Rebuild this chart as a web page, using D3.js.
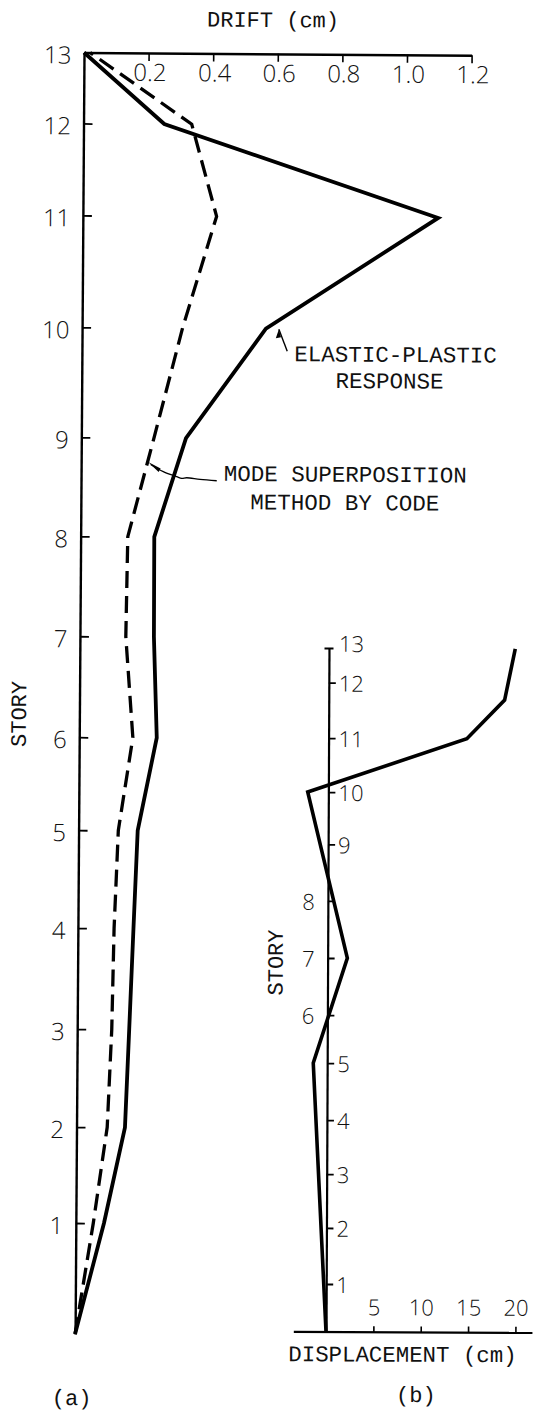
<!DOCTYPE html>
<html><head><meta charset="utf-8">
<script src="https://cdn.jsdelivr.net/npm/d3@7"></script>
<style>
html,body{margin:0;padding:0;background:#fff;}
svg{display:block;background:#fff;}
</style></head><body>
<svg id="chart" width="537" height="1419"></svg>
<script>
// ---------------- DATA ----------------
const stories = [0,1,2,3,4,5,6,7,8,9,10,11,12,13];
// floor elevations (relative units)
const storyElevationA = [0, 1.11, 2.07, 3.05, 4.06, 5.04, 5.97, 6.98, 7.98, 8.97, 10.07, 11.19, 12.11, 12.82];
const storyElevationB = [0, 0.90, 1.95, 2.96, 3.97, 5.04, 5.94, 7.01, 8.08, 9.14, 10.12, 11.13, 12.17, 12.82];
// (a) story drift (cm), stories 0..13
const driftElasticPlastic   = [0, 0.087, 0.150, 0.161, 0.172, 0.183, 0.240, 0.229, 0.228, 0.324, 0.569, 1.100, 0.250, 0];
const driftModeSuperposition = [0, 0.054, 0.095, 0.107, 0.112, 0.123, 0.166, 0.142, 0.146, 0.225, 0.311, 0.414, 0.335, 0.019];
const driftTicks = [0.2, 0.4, 0.6, 0.8, 1.0, 1.2];
// (b) displacement (cm)
const dispStories = [0, 5, 7, 10, 11, 11.7, 13];
const dispValues  = [0, -1.47, 2.08, -2.18, 14.6, 18.57, 19.67];
const dispTicks = [5, 10, 15, 20];
const storyLabelsLeftB = [6, 7, 8];

const NUMFONT = '"Open Sans","Liberation Sans",sans-serif';
const TWFONT = '"Liberation Mono","DejaVu Sans Mono",monospace';

const svg = d3.select("#chart");

// ================= PANEL (a) =================
const gA = svg.append("g").attr("transform", "rotate(0.4,82,700)");
const xA = d3.scaleLinear().domain([0, 1.2]).range([79.5, 79.5 + 1.2 * 323]);
const yA = d3.scaleLinear().domain([0, storyElevationA[13]]).range([1334, 52.5]);
const elevA = d3.scaleLinear().domain(stories).range(storyElevationA);

// top drift axis
const topAx = gA.append("g")
  .attr("transform", `translate(0,${yA(elevA(13))})`)
  .call(d3.axisBottom(xA).tickValues(driftTicks).tickSize(8).tickSizeOuter(0).tickFormat(d3.format(".1f")));
topAx.select(".domain").attr("stroke", "#000").attr("stroke-width", 2.4);
topAx.selectAll(".tick line").attr("stroke", "#000").attr("stroke-width", 1.6);
topAx.selectAll("text")
  .style("font-family", NUMFONT).style("font-weight", 300).style("font-size", "24px")
  .attr("fill", "#111").attr("y", 28).attr("dy", 0).attr("dx", 1);

// left story axis
const leftAx = gA.append("g")
  .attr("transform", `translate(${xA(0)},0)`)
  .call(d3.axisRight(yA)
    .tickValues(stories.slice(1).map(s => storyElevationA[s]))
    .tickFormat((d, i) => stories[i + 1])
    .tickSize(9).tickSizeOuter(0));
leftAx.select(".domain").attr("stroke", "#000").attr("stroke-width", 2.4);
leftAx.selectAll(".tick line").attr("stroke", "#000").attr("stroke-width", 1.8);
leftAx.selectAll("text")
  .style("font-family", NUMFONT).style("font-weight", 300).style("font-size", "24px")
  .attr("fill", "#111").attr("x", -12.5).attr("text-anchor", "end").attr("dy", "0.44em");

const lineA = d3.line().x(d => xA(d.v)).y(d => yA(elevA(d.s)));
const epData = stories.map((s, i) => ({ s, v: driftElasticPlastic[i] }));
const msData = stories.map((s, i) => ({ s, v: driftModeSuperposition[i] }));

gA.append("path").datum(msData).attr("d", lineA)
  .attr("fill", "none").attr("stroke", "#000").attr("stroke-width", 3.3)
  .attr("stroke-dasharray", "17,8").attr("stroke-linejoin", "miter");
gA.append("path").datum(epData).attr("d", lineA)
  .attr("fill", "none").attr("stroke", "#000").attr("stroke-width", 3.8)
  .attr("stroke-linejoin", "miter");

// axis title
gA.append("text").attr("x", 268.3).attr("y", 25.7).attr("text-anchor", "middle")
  .style("font-family", TWFONT).style("font-size", "22px").attr("fill", "#111").text("DRIFT (cm)");
gA.append("text").attr("transform", "translate(18.4,714.4) rotate(-90)")
  .attr("text-anchor", "middle").attr("dy", "0.35em")
  .style("font-family", TWFONT).style("font-size", "22px").attr("fill", "#111").text("STORY");
gA.append("text").attr("x", 76.6).attr("y", 1405).attr("text-anchor", "middle")
  .style("font-family", TWFONT).style("font-size", "22px").attr("fill", "#111").text("(a)");

// annotation: elastic-plastic
const ep10 = [xA(driftElasticPlastic[10]), yA(elevA(10))];
const tip1 = [ep10[0] + 13, ep10[1] + 0.5];
const tail1 = [tip1[0] + 8.5, tip1[1] + 22];
gA.append("line").attr("x1", tail1[0]).attr("y1", tail1[1]).attr("x2", tip1[0]).attr("y2", tip1[1])
  .attr("stroke", "#000").attr("stroke-width", 1.4);
gA.append("path").attr("d", `M${tip1[0]},${tip1[1]} L${tip1[0]-3},${tip1[1]+9} L${tip1[0]+2.2},${tip1[1]+8} Z`).attr("fill", "#000");
gA.append("text").attr("x", 393.1).attr("y", 359.8).attr("text-anchor", "middle")
  .style("font-family", TWFONT).style("font-size", "22.5px").attr("fill", "#111").text("ELASTIC-PLASTIC");
gA.append("text").attr("x", 387.3).attr("y", 386.2).attr("text-anchor", "middle")
  .style("font-family", TWFONT).style("font-size", "22.5px").attr("fill", "#111").text("RESPONSE");

// annotation: mode superposition (wavy leader)
const leader = [[215.2,479.8],[198.5,478.5],[185.1,477],[180.2,477.6],[175.1,476],[161.7,471.1],[149,464]];
gA.append("path").attr("d", d3.line().curve(d3.curveCatmullRom)(leader))
  .attr("fill", "none").attr("stroke", "#000").attr("stroke-width", 1.3);
gA.append("path").attr("d", "M146.5,461.5 L159,468 L157,471.5 Z").attr("fill", "#000");
gA.append("text").attr("x", 343.7).attr("y", 479.9).attr("text-anchor", "middle")
  .style("font-family", TWFONT).style("font-size", "22.5px").attr("fill", "#111").text("MODE SUPERPOSITION");
gA.append("text").attr("x", 343.5).attr("y", 508.2).attr("text-anchor", "middle")
  .style("font-family", TWFONT).style("font-size", "22.5px").attr("fill", "#111").text("METHOD BY CODE");

// ================= PANEL (b) =================
const gB = svg.append("g").attr("transform", "rotate(0.25,328,990)");
const xB = d3.scaleLinear().domain([0, 20]).range([327.5, 327.5 + 20 * 9.47]);
const yB = d3.scaleLinear().domain([0, storyElevationB[13]]).range([1332, 648]);
const elevB = d3.scaleLinear().domain(stories).range(storyElevationB);

// bottom displacement axis
const botAx = gB.append("g").attr("transform", `translate(0,${yB(0)})`)
  .call(d3.axisTop(xB).tickValues(dispTicks).tickSize(6).tickSizeOuter(0));
botAx.select(".domain").remove();
botAx.append("line").attr("x1", xB(-3.4)).attr("x2", xB(21.8)).attr("y1", 0).attr("y2", 0)
  .attr("stroke", "#000").attr("stroke-width", 2.2);
botAx.selectAll(".tick line").attr("stroke", "#000").attr("stroke-width", 1.6);
botAx.selectAll("text")
  .style("font-family", NUMFONT).style("font-weight", 300).style("font-size", "22px")
  .attr("fill", "#111").attr("y", -17).attr("dy", 0);

// vertical story axis
const vAx = gB.append("g").attr("transform", `translate(${xB(0)},0)`)
  .call(d3.axisRight(yB)
    .tickValues(stories.slice(1).map(s => storyElevationB[s]))
    .tickFormat((d, i) => stories[i + 1])
    .tickSize(7).tickSizeOuter(0));
vAx.select(".domain").attr("stroke", "#000").attr("stroke-width", 2.2);
vAx.selectAll(".tick line").attr("stroke", "#000").attr("stroke-width", 1.8)
  .attr("x1", (d, i) => stories[i + 1] === 13 ? -4.5 : 0)
  .attr("x2", (d, i) => stories[i + 1] === 13 ? 4.5 : 7);
vAx.selectAll("text")
  .style("font-family", NUMFONT).style("font-weight", 300).style("font-size", "22px")
  .attr("fill", "#111")
  .attr("x", (d, i) => storyLabelsLeftB.includes(stories[i + 1]) ? -13 : 10)
  .attr("text-anchor", (d, i) => storyLabelsLeftB.includes(stories[i + 1]) ? "end" : "start")
  .attr("dy", (d, i) => stories[i + 1] === 13 ? "0.15em" : "0.38em");

const lineB = d3.line().x(d => xB(d.v)).y(d => yB(elevB(d.s)));
const dispData = dispStories.map((s, i) => ({ s, v: dispValues[i] }));
gB.append("path").datum(dispData).attr("d", lineB)
  .attr("fill", "none").attr("stroke", "#000").attr("stroke-width", 3.6)
  .attr("stroke-linejoin", "miter");

gB.append("text").attr("transform", "translate(274.9,962.7) rotate(-90)")
  .attr("text-anchor", "middle").attr("dy", "0.35em")
  .style("font-family", TWFONT).style("font-size", "22px").attr("fill", "#111").text("STORY");
gB.append("text").attr("x", 404.1).attr("y", 1361.4).attr("text-anchor", "middle")
  .style("font-family", TWFONT).style("font-size", "22.4px").attr("fill", "#111").text("DISPLACEMENT (cm)");
gB.append("text").attr("x", 417.6).attr("y", 1401.6).attr("text-anchor", "middle")
  .style("font-family", TWFONT).style("font-size", "22px").attr("fill", "#111").text("(b)");
</script>
</body></html>
